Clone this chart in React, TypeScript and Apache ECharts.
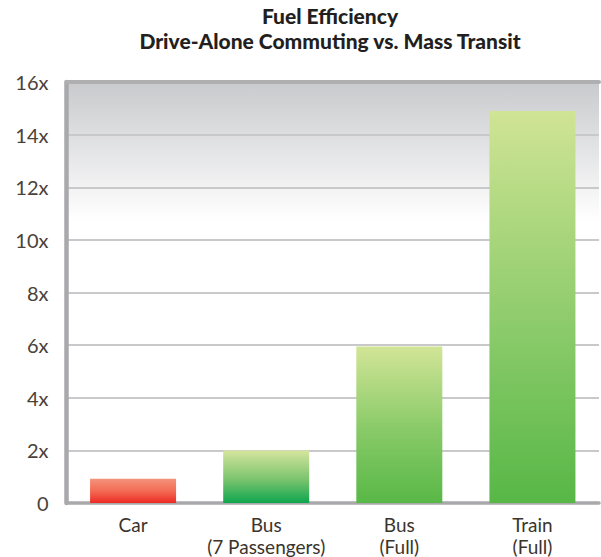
import React, { useEffect, useRef } from "react";
import * as echarts from "echarts";

const categories = ["Car", "Bus\n(7 Passengers)", "Bus\n(Full)", "Train\n(Full)"];
const efficiency = [0.92, 2, 5.95, 14.9];
const barTopColors = ["#f5937b", "#d5e59e", "#d2e597", "#d0e495"];
const barMidColors = ["#f26650", "#7cc46e", "#86c966", "#8ccb6b"];
const barBottomColors = ["#ed2a24", "#0ea64f", "#58b847", "#57b746"];
const yTicks = [0, 2, 4, 6, 8, 10, 12, 14, 16];
const titleLines = ["Fuel Efficiency", "Drive-Alone Commuting vs. Mass Transit"];

export default function App() {
  const ref = useRef<HTMLDivElement>(null);
  useEffect(() => {
    if (!ref.current) return;
    const chart = echarts.init(ref.current, undefined, { renderer: "svg" });
    const font = "Lato, 'DejaVu Sans', sans-serif";
    const titleStyle = {
      fontFamily: font,
      fontWeight: 900,
      fontSize: 21,
      lineHeight: 21,
      color: "#231f20",
    };
    chart.setOption({
      animation: false,
      backgroundColor: "#ffffff",
      title: titleLines.map((t, i) => ({
        text: t,
        left: 330,
        top: 5 + i * 25,
        padding: 0,
        textAlign: "center",
        textStyle: titleStyle,
      })),
      grid: {
        left: 66.5,
        right: 2,
        top: 82,
        bottom: 51.5,
        show: true,
        borderWidth: 0,
        backgroundColor: new echarts.graphic.LinearGradient(0, 0, 0, 1, [
          { offset: 0, color: "#c9cacd" },
          { offset: 0.33, color: "#ffffff" },
          { offset: 1, color: "#ffffff" },
        ]),
      },
      xAxis: [
        {
          type: "category",
          data: categories,
          position: "bottom",
          axisLine: { show: true, lineStyle: { color: "#a9a9ac", width: 3.5 } },
          axisTick: { show: false },
          axisLabel: {
            interval: 0,
            margin: 10,
            fontFamily: font,
            fontSize: 19,
            lineHeight: 22,
            color: "#3b342d",
          },
        },
        {
          type: "category",
          data: categories,
          position: "top",
          axisLine: { show: true, lineStyle: { color: "#afafb1", width: 4 } },
          axisTick: { show: false },
          axisLabel: { show: false },
        },
      ],
      yAxis: {
        type: "value",
        min: yTicks[0],
        max: yTicks[yTicks.length - 1],
        interval: 2,
        axisLine: { show: true, lineStyle: { color: "#a9a9ac", width: 4.5 } },
        axisTick: { show: false },
        splitLine: { show: true, lineStyle: { color: "#c9c9cb", width: 2 } },
        axisLabel: {
          margin: 18,
          fontFamily: font,
          fontSize: 20,
          color: "#4a4239",
          formatter: (v: number) => (v === 0 ? "0" : `${v}x`),
        },
      },
      series: [
        {
          type: "bar",
          barWidth: 86,
          xAxisIndex: 0,
          data: efficiency.map((v, i) => ({
            value: v,
            itemStyle: {
              color: new echarts.graphic.LinearGradient(0, 0, 0, 1, [
                { offset: 0, color: barTopColors[i] },
                { offset: 0.55, color: barMidColors[i] },
                { offset: 1, color: barBottomColors[i] },
              ]),
            },
          })),
        },
      ],
    });
    return () => chart.dispose();
  }, []);
  return (
    <div
      ref={ref}
      style={{ position: "fixed", left: 0, top: 0, width: 601, height: 557 }}
    />
  );
}
